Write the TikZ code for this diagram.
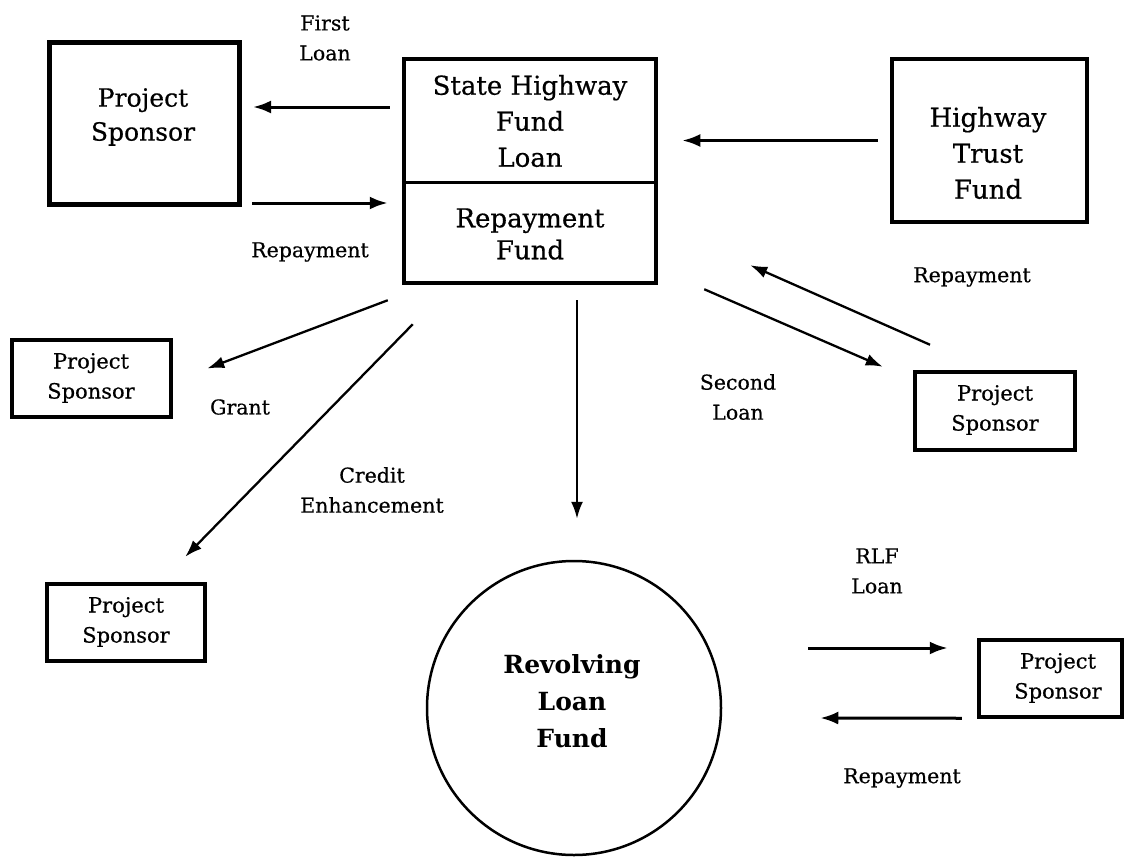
\documentclass[tikz,border=0pt]{standalone}
\usepackage{fontspec}
\setmainfont{DejaVu Serif}[UprightFeatures={FakeBold=0.5}]
\usetikzlibrary{arrows.meta,calc}

\tikzset{
  boxbig/.style={draw, line width=5pt, rectangle, inner sep=0pt},
  boxmid/.style={draw, line width=4.5pt, rectangle, inner sep=0pt},
  boxsmall/.style={draw, line width=4.5pt, rectangle, inner sep=0pt},
  fundcircle/.style={draw, line width=2.5pt, circle, inner sep=0pt},
  bigtext/.style={align=center, inner sep=0pt, font=\fontsize{25}{34}\selectfont},
  smalltext/.style={align=center, inner sep=0pt, font=\fontsize{21}{30}\selectfont},
  boldtext/.style={align=center, inner sep=0pt, font=\fontsize{25}{37}\selectfont\bfseries},
  lbl/.style={align=center, inner sep=0pt, font=\fontsize{20.5}{30}\selectfont},
  arr/.style={line width=3pt, -{Latex[length=18pt,width=13pt]}},
  darr/.style={line width=2.3pt, -{Latex[length=17pt,width=12pt]}}
}

\begin{document}
\begin{tikzpicture}[x=1pt,y=-1pt]
  \useasboundingbox (0,0) rectangle (1130,857);

  % boxes
  \node[boxbig, minimum width=190pt, minimum height=162pt] (ps1) at (144.5,123.5) {};
  \node[boxmid, minimum width=252pt, minimum height=224pt] (shf) at (530,171) {};
  \draw[line width=3pt] (shf.west |- 0,182) -- (shf.east |- 0,182);
  \node[boxmid, minimum width=195pt, minimum height=163pt] (htf) at (989.5,140.5) {};
  \node[boxsmall, minimum width=159pt, minimum height=77pt] (ps2) at (91.5,378.5) {};
  \node[boxsmall, minimum width=158pt, minimum height=77pt] (ps3) at (126,622.5) {};
  \node[boxsmall, minimum width=160pt, minimum height=78pt] (ps4) at (995,411) {};
  \node[boxsmall, minimum width=143pt, minimum height=77pt] (ps5) at (1050.5,678.5) {};
  \node[fundcircle, minimum size=294pt] (rlf) at (574,708) {};

  % texts inside the shapes
  \node[bigtext] (ps1t) at (143,117) {Project\\Sponsor};
  \node[bigtext, font=\fontsize{26}{36}\selectfont] (shft) at (530,121) {State Highway\\Fund\\Loan};
  \node[bigtext, font=\fontsize{26}{32}\selectfont] (shfb) at (530,234) {Repayment\\Fund};
  \node[bigtext, font=\fontsize{26}{36}\selectfont] (htft) at (988,153) {Highway\\Trust\\Fund};
  \node[smalltext] (ps2t) at (91,378) {Project\\Sponsor};
  \node[smalltext] (ps3t) at (126,622) {Project\\Sponsor};
  \node[smalltext] (ps4t) at (995,410) {Project\\Sponsor};
  \node[smalltext] (ps5t) at (1058,678) {Project\\Sponsor};
  \node[boldtext] (rlft) at (572,701) {Revolving\\Loan\\Fund};

  % connector labels
  \node[lbl] (lfirst) at (325,38) {First\\Loan};
  \node[lbl] (lrep1) at (310,252) {Repayment};
  \node[lbl] (lrep2) at (972,277) {Repayment};
  \node[lbl] (lgrant) at (240,407) {Grant};
  \node[lbl] (lcredit) at (372,490) {Credit\\Enhancement};
  \node[lbl] (lsecond) at (738,397) {Second\\Loan};
  \node[lbl] (lrlf) at (877,571) {RLF\\Loan};
  \node[lbl] (lrep3) at (902,778) {Repayment};

  % connectors
  \draw[arr, shorten <=12pt, shorten >=11pt] (shf.west |- 0,107) -- (ps1.east |- 0,107);
  \draw[arr, shorten <=10pt, shorten >=14pt] (ps1.east |- 0,203) -- (shf.west |- 0,203);
  \draw[arr, shorten <=12pt, shorten >=24pt] (htf.west) -- (htf.west -| shf.east);
  \draw[darr] ([shift={(-14,15)}]shf.south west) -- ([shift={(34,-10)}]ps2.east);
  \draw[darr] ([shift={(11,39)}]shf.south west) -- ([shift={(-22,-25)}]ps3.north east);
  \draw[darr] ([shift={(47,15)}]shf.south) -- ([shift={(3,-41)}]rlf.north);
  \draw[darr] ([shift={(46,4)}]shf.south east) -- ([shift={(-30,-3)}]ps4.north west);
  \draw[darr] ([shift={(-65,-25)}]ps4.north) -- ([shift={(92,-20)}]shf.south east);
  \draw[arr] ([shift={(86,-60)}]rlf.east) -- ([shift={(-29,-30.5)}]ps5.west);
  \draw[arr] ([shift={(-15,-1)}]ps5.south west) -- ([shift={(98,10)}]rlf.east);
\end{tikzpicture}
\end{document}
